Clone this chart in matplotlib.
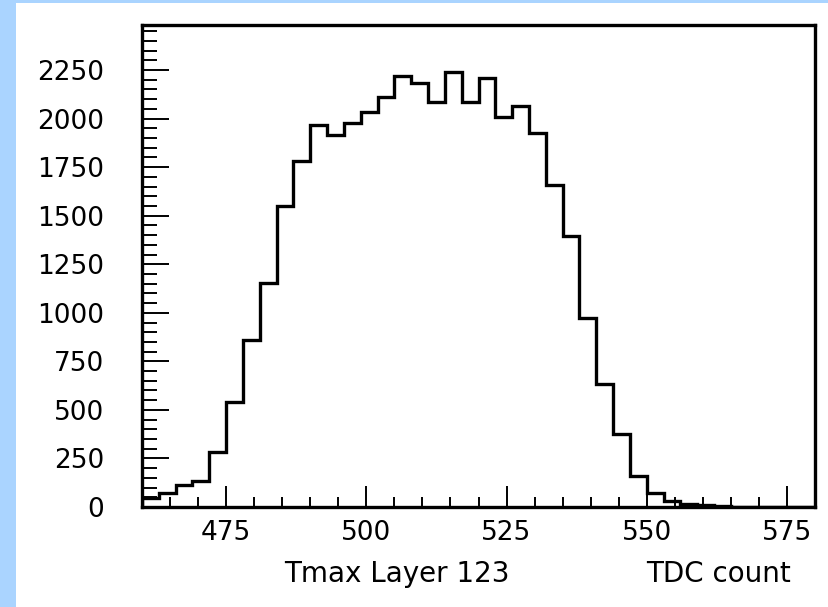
import numpy as np
import matplotlib
matplotlib.use("Agg")
import matplotlib.pyplot as plt
from matplotlib.ticker import MultipleLocator
from matplotlib.patches import Rectangle

# Гистограмма Tmax, слой 123: бины по 3 отсчета TDC от 460 до 580
bin_start = 460
bin_width = 3
counts = [
    45, 72, 115, 135, 284, 542, 862, 1156, 1550, 1781,
    1965, 1914, 1975, 2033, 2109, 2217, 2181, 2088, 2238, 2088,
    2207, 2006, 2063, 1924, 1656, 1397, 971, 633, 376, 158,
    70, 30, 15, 8, 5, 2, 1, 0, 0, 0,
]
x_range = (460, 580)
y_max = 2482
x_label = "Tmax Layer 123"
x_unit = "TDC count"

edges = bin_start + bin_width * np.arange(len(counts) + 1)

fig = plt.figure(figsize=(8.29, 6.07), dpi=100)
fig.patch.set_facecolor("white")

# Голубая рамка слева и сверху
fig.patches.append(Rectangle((0, 0), 16 / 829, 1, transform=fig.transFigure,
                             facecolor="#aad4ff", edgecolor="none", zorder=0))
fig.patches.append(Rectangle((0, 1 - 3 / 607), 1, 3 / 607, transform=fig.transFigure,
                             facecolor="#aad4ff", edgecolor="none", zorder=0))

ax = fig.add_axes([142 / 829, 100 / 607, 673 / 829, 482 / 607])
ax.stairs(counts, edges, color="black", linewidth=2.4)

ax.set_xlim(*x_range)
ax.set_ylim(0, y_max)

for side in ["left", "right", "top", "bottom"]:
    ax.spines[side].set_linewidth(2.4)
    ax.spines[side].set_color("black")

ax.xaxis.set_major_locator(MultipleLocator(25))
ax.xaxis.set_minor_locator(MultipleLocator(5))
ax.yaxis.set_major_locator(MultipleLocator(250))
ax.yaxis.set_minor_locator(MultipleLocator(50))

ax.tick_params(axis="x", which="major", direction="in", length=15, width=1.4,
               pad=9, labelsize=19, top=False)
ax.tick_params(axis="x", which="minor", direction="in", length=7.2, width=1.4, top=False)
ax.tick_params(axis="y", which="major", direction="in", length=19.5, width=1.4,
               pad=27, labelsize=19, right=False)
ax.tick_params(axis="y", which="minor", direction="in", length=10.8, width=1.4, right=False)

# Подпись оси X: название и единицы
fig.text(397 / 829, 1 - 574 / 607, x_label, ha="center", va="center", fontsize=20)
fig.text(718 / 829, 1 - 574 / 607, x_unit, ha="center", va="center", fontsize=20)

fig.savefig("out.png", dpi=100)
